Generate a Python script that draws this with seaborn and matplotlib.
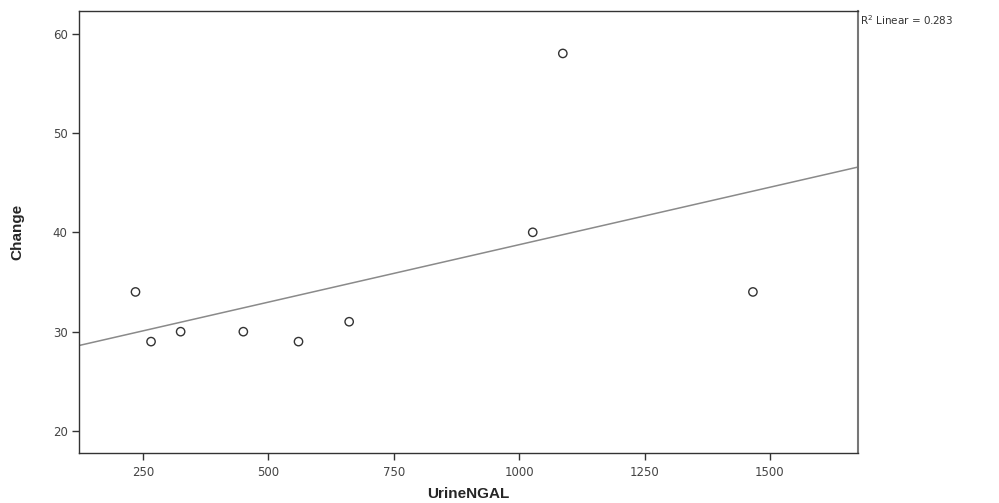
import numpy as np
import pandas as pd
import matplotlib
matplotlib.use("Agg")
import matplotlib.pyplot as plt
import seaborn as sns

# Datos
urine_ngal = [235, 266, 325, 450, 560, 661, 1027, 1087, 1466]
change = [34, 29, 30, 30, 29, 31, 40, 58, 34]
x_ticks = [250, 500, 750, 1000, 1250, 1500]
y_ticks = [20, 30, 40, 50, 60]

df = pd.DataFrame({"UrineNGAL": urine_ngal, "Change": change})

# R cuadrado del ajuste lineal
r = np.corrcoef(df["UrineNGAL"], df["Change"])[0, 1]
r2 = r ** 2

sns.set_style("ticks")
plt.rcParams["font.family"] = ["DejaVu Sans"]

fig = plt.figure(figsize=(9.99, 5.03), dpi=100)
ax = fig.add_axes([0.0794, 0.0988, 0.7792, 0.8799])
ax.set_xlim(123, 1675)
ax.set_ylim(17.76, 62.3)

# Línea de regresión hasta los bordes
sns.regplot(data=df, x="UrineNGAL", y="Change", ax=ax, scatter=False, ci=None,
            truncate=False, line_kws={"color": "#8a8a8a", "linewidth": 1.1})
sns.scatterplot(data=df, x="UrineNGAL", y="Change", ax=ax, marker="o", s=36,
                facecolor="none", edgecolor="#333333", linewidth=1.0)

ax.set_xlim(123, 1675)
ax.set_ylim(17.76, 62.3)
ax.set_xticks(x_ticks)
ax.set_yticks(y_ticks)
ax.tick_params(axis="both", labelsize=8.5, labelcolor="#444444", color="#333333",
               length=5, width=1, direction="out")
ax.tick_params(axis="x", pad=4)

for side in ["left", "bottom", "top"]:
    ax.spines[side].set_color("#333333")
    ax.spines[side].set_linewidth(1.0)
ax.spines["right"].set_color("#777777")
ax.spines["right"].set_linewidth(1.5)

ax.set_xlabel("UrineNGAL", fontsize=11, fontweight="bold", family="Liberation Sans",
              labelpad=6)
ax.set_ylabel("Change", fontsize=11, fontweight="bold", family="Liberation Sans",
              labelpad=20)

fig.text(0.8606, 0.96, f"R$^2$ Linear = {r2:.3f}", fontsize=7.5, color="#333333",
         ha="left", va="center")

plt.savefig("out.png", dpi=100)
plt.close()
